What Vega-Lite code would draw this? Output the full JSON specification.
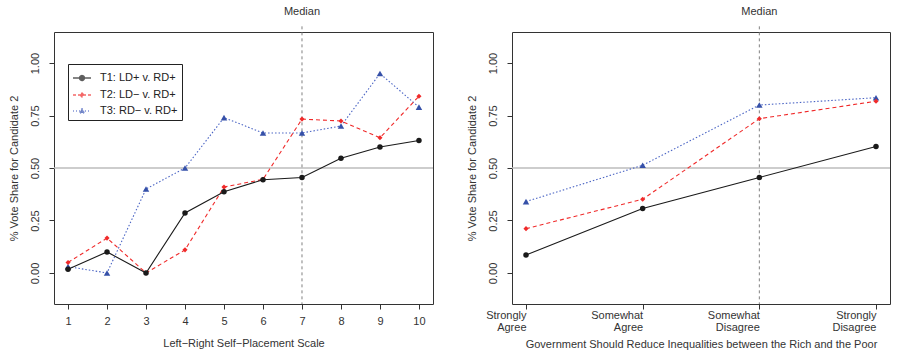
{
  "$schema": "https://vega.github.io/schema/vega-lite/v6.json",
  "padding": {"left": 7, "top": 5, "right": 5, "bottom": 4},
  "background": "white",
  "datasets": {
    "left": [
      {"x": 1, "series": "T1", "value": 0.018}, {"x": 2, "series": "T1", "value": 0.100}, {"x": 3, "series": "T1", "value": 0.000},
      {"x": 4, "series": "T1", "value": 0.286}, {"x": 5, "series": "T1", "value": 0.387}, {"x": 6, "series": "T1", "value": 0.444},
      {"x": 7, "series": "T1", "value": 0.455}, {"x": 8, "series": "T1", "value": 0.546}, {"x": 9, "series": "T1", "value": 0.600},
      {"x": 10, "series": "T1", "value": 0.631},
      {"x": 1, "series": "T2", "value": 0.050}, {"x": 2, "series": "T2", "value": 0.166}, {"x": 3, "series": "T2", "value": 0.000},
      {"x": 4, "series": "T2", "value": 0.110}, {"x": 5, "series": "T2", "value": 0.409}, {"x": 6, "series": "T2", "value": 0.446},
      {"x": 7, "series": "T2", "value": 0.733}, {"x": 8, "series": "T2", "value": 0.724}, {"x": 9, "series": "T2", "value": 0.644},
      {"x": 10, "series": "T2", "value": 0.842},
      {"x": 1, "series": "T3", "value": 0.030}, {"x": 2, "series": "T3", "value": 0.000}, {"x": 3, "series": "T3", "value": 0.400},
      {"x": 4, "series": "T3", "value": 0.500}, {"x": 5, "series": "T3", "value": 0.740}, {"x": 6, "series": "T3", "value": 0.667},
      {"x": 7, "series": "T3", "value": 0.667}, {"x": 8, "series": "T3", "value": 0.700}, {"x": 9, "series": "T3", "value": 0.950},
      {"x": 10, "series": "T3", "value": 0.790}
    ],
    "right": [
      {"x": "Strongly Agree", "series": "T1", "value": 0.085}, {"x": "Somewhat Agree", "series": "T1", "value": 0.307},
      {"x": "Somewhat Disagree", "series": "T1", "value": 0.455}, {"x": "Strongly Disagree", "series": "T1", "value": 0.602},
      {"x": "Strongly Agree", "series": "T2", "value": 0.211}, {"x": "Somewhat Agree", "series": "T2", "value": 0.351},
      {"x": "Somewhat Disagree", "series": "T2", "value": 0.735}, {"x": "Strongly Disagree", "series": "T2", "value": 0.818},
      {"x": "Strongly Agree", "series": "T3", "value": 0.340}, {"x": "Somewhat Agree", "series": "T3", "value": 0.513},
      {"x": "Somewhat Disagree", "series": "T3", "value": 0.800}, {"x": "Strongly Disagree", "series": "T3", "value": 0.835}
    ],
    "legendItems": [
      {"series": "T1: LD+ v. RD+"}, {"series": "T2: LD− v. RD+"}, {"series": "T3: RD− v. RD+"}
    ]
  },
  "spacing": 30,
  "hconcat": [
    {
      "width": 379,
      "height": 272,
      "layer": [
        {
          "data": {"values": [{}]},
          "mark": {"type": "rule", "color": "#bdbdbd", "strokeWidth": 1.5},
          "encoding": {"y": {"datum": 0.5, "type": "quantitative"}}
        },
        {
          "data": {"values": [{}]},
          "mark": {"type": "rule", "color": "#808080", "strokeDash": [3, 3], "strokeWidth": 1},
          "encoding": {
            "x": {"datum": 7, "type": "quantitative"},
            "y": {"datum": 1.175, "type": "quantitative"},
            "y2": {"datum": -0.148}
          }
        },
        {
          "data": {"values": [{}]},
          "mark": {"type": "text", "fontSize": 11, "color": "#333", "baseline": "middle", "font": "Liberation Sans"},
          "encoding": {
            "x": {"datum": 7, "type": "quantitative"},
            "y": {"datum": 1.245, "type": "quantitative"},
            "text": {"value": "Median"}
          }
        },
        {
          "data": {"name": "left"},
          "transform": [{"filter": "datum.series == 'T3'"}],
          "mark": {"type": "line", "color": "#4a64c4", "strokeWidth": 1.1, "strokeDash": [1.5, 2],
                   "point": {"filled": true, "shape": "triangle-up", "size": 42, "color": "#3550a8"}},
          "encoding": {
            "x": {"field": "x", "type": "quantitative",
                  "scale": {"domain": [0.64, 10.36], "nice": false, "zero": false},
                  "axis": {"values": [1, 2, 3, 4, 5, 6, 7, 8, 9, 10], "format": "d", "labelAngle": 0,
                           "labelPadding": 6, "title": "Left−Right Self−Placement Scale", "titlePadding": 11}},
            "y": {"field": "value", "type": "quantitative",
                  "scale": {"domain": [-0.148, 1.148], "nice": false, "zero": false},
                  "axis": {"values": [0, 0.25, 0.5, 0.75, 1], "format": ".2f", "labelAngle": 270,
                           "labelPadding": 9, "title": "% Vote Share for Candidate 2", "titlePadding": 10}}
          }
        },
        {
          "data": {"name": "left"},
          "transform": [{"filter": "datum.series == 'T2'"}],
          "mark": {"type": "line", "color": "#f02a2a", "strokeWidth": 1.1, "strokeDash": [4, 3],
                   "point": {"filled": true, "shape": "diamond", "size": 26, "color": "#f02a2a"}},
          "encoding": {
            "x": {"field": "x", "type": "quantitative"},
            "y": {"field": "value", "type": "quantitative"}
          }
        },
        {
          "data": {"name": "left"},
          "transform": [{"filter": "datum.series == 'T1'"}],
          "mark": {"type": "line", "color": "#1a1a1a", "strokeWidth": 1.1,
                   "point": {"filled": true, "shape": "circle", "size": 30, "color": "#1a1a1a"}},
          "encoding": {
            "x": {"field": "x", "type": "quantitative"},
            "y": {"field": "value", "type": "quantitative"}
          }
        },
        {
          "data": {"name": "legendItems"},
          "transform": [{"filter": "false"}],
          "mark": {"type": "point", "filled": true},
          "encoding": {
            "shape": {"field": "series", "type": "nominal",
                      "scale": {"domain": ["T1: LD+ v. RD+", "T2: LD− v. RD+", "T3: RD− v. RD+"],
                                "range": ["M-1,0H1M0.28,0A0.28,0.28,0,1,1,-0.28,0A0.28,0.28,0,1,1,0.28,0Z",
                                          "M-1,0H1M0,-0.22L0.22,0L0,0.22L-0.22,0Z",
                                          "M-1,0H1M0,-0.3L0.3,0.22L-0.3,0.22Z"]},
                      "legend": {"orient": "none", "legendX": 14, "legendY": 32, "title": null,
                                 "strokeColor": "#222", "fillColor": "white", "padding": 4,
                                 "symbolSize": 324, "symbolStrokeWidth": 1.3, "labelFontSize": 11,
                                 "labelColor": "#222", "labelFont": "Liberation Sans", "labelOffset": 8, "rowPadding": 1}},
            "color": {"field": "series", "type": "nominal",
                      "scale": {"domain": ["T1: LD+ v. RD+", "T2: LD− v. RD+", "T3: RD− v. RD+"],
                                "range": ["#1a1a1a", "#f02a2a", "#3550a8"]}},
            "stroke": {"field": "series", "type": "nominal",
                       "scale": {"domain": ["T1: LD+ v. RD+", "T2: LD− v. RD+", "T3: RD− v. RD+"],
                                 "range": ["#1a1a1a", "#f02a2a", "#4a64c4"]}},
            "strokeDash": {"field": "series", "type": "nominal",
                           "scale": {"domain": ["T1: LD+ v. RD+", "T2: LD− v. RD+", "T3: RD− v. RD+"],
                                     "range": [[1, 0], [3, 2], [1, 2]]}}
          }
        }
      ]
    },
    {
      "width": 378,
      "height": 272,
      "layer": [
        {
          "data": {"values": [{}]},
          "mark": {"type": "rule", "color": "#bdbdbd", "strokeWidth": 1.5},
          "encoding": {"y": {"datum": 0.5, "type": "quantitative"}}
        },
        {
          "data": {"values": [{}]},
          "mark": {"type": "rule", "color": "#808080", "strokeDash": [3, 3], "strokeWidth": 1},
          "encoding": {
            "x": {"datum": "Somewhat Disagree", "type": "nominal"},
            "y": {"datum": 1.175, "type": "quantitative"},
            "y2": {"datum": -0.148}
          }
        },
        {
          "data": {"values": [{}]},
          "mark": {"type": "text", "fontSize": 11, "color": "#333", "baseline": "middle", "font": "Liberation Sans"},
          "encoding": {
            "x": {"datum": "Somewhat Disagree", "type": "nominal"},
            "y": {"datum": 1.245, "type": "quantitative"},
            "text": {"value": "Median"}
          }
        },
        {
          "data": {"name": "right"},
          "transform": [{"filter": "datum.series == 'T3'"}],
          "mark": {"type": "line", "color": "#4a64c4", "strokeWidth": 1.1, "strokeDash": [1.5, 2],
                   "point": {"filled": true, "shape": "triangle-up", "size": 42, "color": "#3550a8"}},
          "encoding": {
            "x": {"field": "x", "type": "nominal",
                  "sort": ["Strongly Agree", "Somewhat Agree", "Somewhat Disagree", "Strongly Disagree"],
                  "scale": {"type": "point", "padding": 0.12,
                            "domain": ["Strongly Agree", "Somewhat Agree", "Somewhat Disagree", "Strongly Disagree"]},
                  "axis": {"labelExpr": "split(datum.label, ' ')", "labelAngle": 0, "labelLineHeight": 12,
                           "labelPadding": 6, "title": "Government Should Reduce Inequalities between the Rich and the Poor",
                           "titlePadding": 6}},
            "y": {"field": "value", "type": "quantitative",
                  "scale": {"domain": [-0.148, 1.148], "nice": false, "zero": false},
                  "axis": {"values": [0, 0.25, 0.5, 0.75, 1], "format": ".2f", "labelAngle": 270,
                           "labelPadding": 9, "title": "% Vote Share for Candidate 2", "titlePadding": 10}}
          }
        },
        {
          "data": {"name": "right"},
          "transform": [{"filter": "datum.series == 'T2'"}],
          "mark": {"type": "line", "color": "#f02a2a", "strokeWidth": 1.1, "strokeDash": [4, 3],
                   "point": {"filled": true, "shape": "diamond", "size": 26, "color": "#f02a2a"}},
          "encoding": {
            "x": {"field": "x", "type": "nominal"},
            "y": {"field": "value", "type": "quantitative"}
          }
        },
        {
          "data": {"name": "right"},
          "transform": [{"filter": "datum.series == 'T1'"}],
          "mark": {"type": "line", "color": "#1a1a1a", "strokeWidth": 1.1,
                   "point": {"filled": true, "shape": "circle", "size": 30, "color": "#1a1a1a"}},
          "encoding": {
            "x": {"field": "x", "type": "nominal"},
            "y": {"field": "value", "type": "quantitative"}
          }
        },
        {
          "data": {"name": "legendItems"},
          "transform": [{"filter": "false"}],
          "mark": {"type": "point", "filled": true},
          "encoding": {
            "shape": {"field": "series", "type": "nominal",
                      "scale": {"domain": ["T1: LD+ v. RD+", "T2: LD− v. RD+", "T3: RD− v. RD+"],
                                "range": ["M-1,0H1M0.28,0A0.28,0.28,0,1,1,-0.28,0A0.28,0.28,0,1,1,0.28,0Z",
                                          "M-1,0H1M0,-0.22L0.22,0L0,0.22L-0.22,0Z",
                                          "M-1,0H1M0,-0.3L0.3,0.22L-0.3,0.22Z"]},
                      "legend": {"orient": "none", "legendX": 13, "legendY": 32, "title": null,
                                 "strokeColor": "#222", "fillColor": "white", "padding": 4,
                                 "symbolSize": 324, "symbolStrokeWidth": 1.3, "labelFontSize": 11,
                                 "labelColor": "#222", "labelFont": "Liberation Sans", "labelOffset": 8, "rowPadding": 1}},
            "color": {"field": "series", "type": "nominal",
                      "scale": {"domain": ["T1: LD+ v. RD+", "T2: LD− v. RD+", "T3: RD− v. RD+"],
                                "range": ["#1a1a1a", "#f02a2a", "#3550a8"]}},
            "stroke": {"field": "series", "type": "nominal",
                       "scale": {"domain": ["T1: LD+ v. RD+", "T2: LD− v. RD+", "T3: RD− v. RD+"],
                                 "range": ["#1a1a1a", "#f02a2a", "#4a64c4"]}},
            "strokeDash": {"field": "series", "type": "nominal",
                           "scale": {"domain": ["T1: LD+ v. RD+", "T2: LD− v. RD+", "T3: RD− v. RD+"],
                                     "range": [[1, 0], [3, 2], [1, 2]]}}
          }
        }
      ]
    }
  ],
  "config": {
    "font": "Liberation Sans",
    "view": {"stroke": "#333", "strokeWidth": 1},
    "axis": {"grid": false, "domain": false, "tickColor": "#333", "tickSize": 5, "tickWidth": 1,
             "labelColor": "#333", "titleColor": "#333", "labelFontSize": 11, "titleFontSize": 11,
             "titleFontWeight": "normal", "labelFont": "Liberation Sans", "titleFont": "Liberation Sans"}
  }
}
